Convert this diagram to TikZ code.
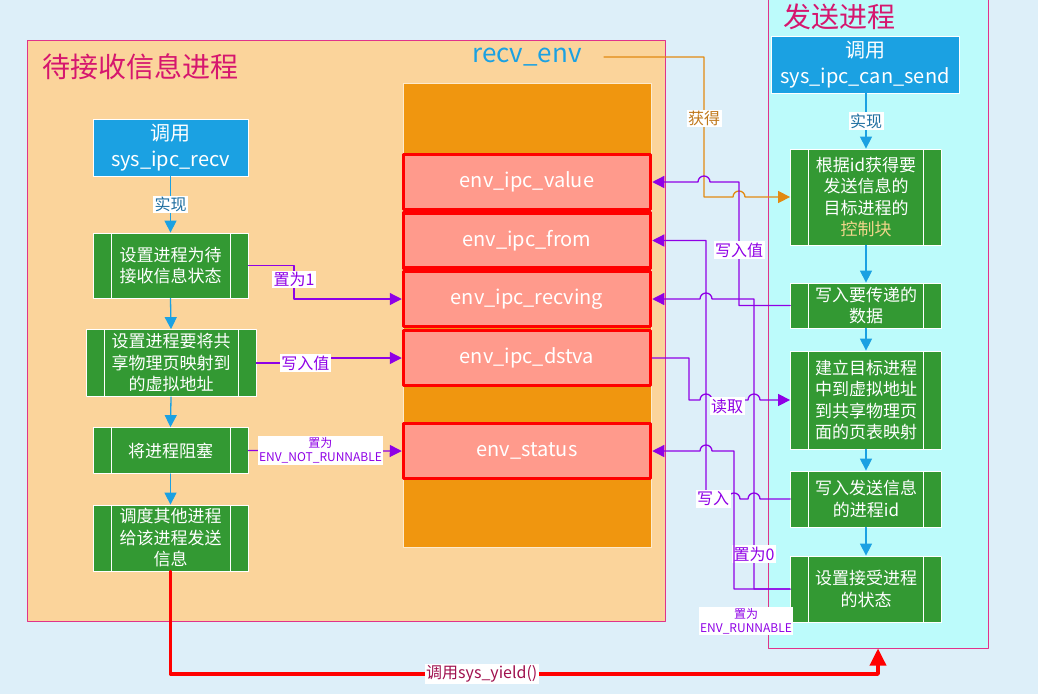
\documentclass[tikz,border=0pt]{standalone}
\usepackage{fontspec}
\setmainfont{Noto Sans CJK SC}
\usetikzlibrary{arrows.meta}
\usetikzlibrary{calc}

\definecolor{bgblue}{HTML}{DDEFF9}
\definecolor{recvfill}{HTML}{FBD49B}
\definecolor{sendfill}{HTML}{BCFBFB}
\definecolor{panelpink}{HTML}{E0338A}
\definecolor{titlepink}{HTML}{D6166E}
\definecolor{envorange}{HTML}{F0960F}
\definecolor{fieldsalmon}{HTML}{FF9A8C}
\definecolor{callblue}{HTML}{1BA1E2}
\definecolor{procgreen}{HTML}{339933}
\definecolor{ipcpurple}{HTML}{8F00E6}
\definecolor{getorange}{HTML}{E28A12}
\definecolor{gettext}{HTML}{C0781A}
\definecolor{impltext}{HTML}{1E6EA0}
\definecolor{yieldtext}{HTML}{A0104E}
\definecolor{ctrlyellow}{HTML}{F0D68A}

\begin{document}
\begin{tikzpicture}[x=1pt, y=-1pt, line cap=round, line join=round, >={Triangle[length=12pt,width=12pt]},
  callbox/.style={draw=white, line width=0.8pt, fill=callblue, text=white, align=center, minimum height=57pt, inner sep=0pt, font=\fontsize{20}{26}\selectfont},
  procbox/.style={draw=white, line width=0.8pt, fill=procgreen, text=white, align=center, inner sep=0pt, font=\fontsize{17}{21.5}\selectfont,
    path picture={\draw[white, line width=0.8pt] ([xshift=18pt]path picture bounding box.north west) -- ([xshift=18pt]path picture bounding box.south west)
      ([xshift=-18pt]path picture bounding box.north east) -- ([xshift=-18pt]path picture bounding box.south east);}},
  fieldbox/.style={draw=red, line width=3.5pt, fill=fieldsalmon, text=white, minimum width=247pt, minimum height=55pt, font=\fontsize{20}{24}\selectfont},
  lbl/.style={fill=white, inner sep=1.5pt, font=\fontsize{16}{18}\selectfont},
  plbl/.style={lbl, text=ipcpurple},
  smalllbl/.style={fill=white, inner sep=1.5pt, align=center, text=ipcpurple, font=\fontsize{12}{14}\selectfont},
  flow/.style={draw=callblue, line width=1.3pt, ->},
  pline/.style={draw=ipcpurple, line width=1.3pt},
  oline/.style={draw=getorange, line width=1.3pt},
  yline/.style={draw=red, line width=3.5pt, -{Triangle[length=17pt,width=16pt]}},
  ]

\useasboundingbox (0,0) rectangle (1038,694);
\fill[bgblue] (0,0) rectangle (1038,694);

% the two processes
\node[draw=panelpink, line width=1pt, fill=recvfill, minimum width=638pt, minimum height=581pt, inner sep=0pt] (recvp) at (346,330.5) {};
\node[draw=panelpink, line width=1pt, fill=sendfill, minimum width=220pt, minimum height=653pt, inner sep=0pt] (sendp) at (878,321.5) {};
\node[anchor=west, text=titlepink, font=\fontsize{28}{32}\selectfont, inner sep=0pt] (recvtitle) at (42,67) {待接收信息进程};
\node[anchor=west, text=titlepink, font=\fontsize{28}{32}\selectfont, inner sep=0pt] (sendtitle) at (783,17) {发送进程};

% recv_env
\node[text=callblue, font=\fontsize{26}{30}\selectfont, inner sep=1pt] (recvenv) at (527,57) {recv\_env};
\node[draw=recvfill!50!white, fill=envorange, minimum width=248pt, minimum height=464pt, inner sep=0pt] (envcol) at (527,315) {};
\node[fieldbox] (value) at (527,182) {env\_ipc\_value};
\node[fieldbox] (from) at (527,240.5) {env\_ipc\_from};
\node[fieldbox] (recving) at (527,299) {env\_ipc\_recving};
\node[fieldbox] (dstva) at (527,358) {env\_ipc\_dstva};
\node[fieldbox] (status) at (527,451) {env\_status};

% receiver
\node[callbox, minimum width=155pt] (callrecv) at (170.5,147.5) {调用\\sys\_ipc\_recv};
\node[procbox, minimum width=155pt, minimum height=65pt] (setwait) at (170.5,265.5) {设置进程为待\\接收信息状态};
\node[procbox, minimum width=170pt, minimum height=67pt] (setva) at (171,363) {设置进程要将共\\享物理页映射到\\的虚拟地址};
\node[procbox, minimum width=155pt, minimum height=46pt] (block) at (170.5,450.5) {将进程阻塞};
\node[procbox, minimum width=155pt, minimum height=66pt] (sched) at (170.5,538) {调度其他进程\\给该进程发送\\信息};

% sender
\node[callbox, minimum width=188pt] (callsend) at (865,64.5) {调用\\sys\_ipc\_can\_send};
\node[procbox, minimum width=151pt, minimum height=96pt] (getenv) at (866,197) {根据id获得要\\发送信息的\\目标进程的\\\textcolor{ctrlyellow}{控制块}};
\node[procbox, minimum width=151pt, minimum height=45pt] (putval) at (866,305.5) {写入要传递的\\数据};
\node[procbox, minimum width=151pt, minimum height=98pt] (mappage) at (866,400) {建立目标进程\\中到虚拟地址\\到共享物理页\\面的页表映射};
\node[procbox, minimum width=151pt, minimum height=56pt] (putid) at (866,499) {写入发送信息\\的进程id};
\node[procbox, minimum width=151pt, minimum height=66pt] (setrun) at (866,589) {设置接受进程\\的状态};

\draw[flow] (callrecv) -- node[lbl, text=impltext] {实现} (setwait);
\draw[flow] (setwait.south) -- (setva.north);
\draw[flow] (setva.south) -- (block.north);
\draw[flow] (block) -- (sched);

\draw[flow] (callsend.south -| getenv.north) -- node[lbl, text=impltext] {实现} (getenv.north);
\draw[flow] (getenv) -- (putval);
\draw[flow] (putval) -- (mappage);
\draw[flow] (mappage) -- (putid);
\draw[flow] (putid) -- (setrun);

% lanes between the columns
\coordinate (lnL) at (294,0);
\coordinate (lnA) at (689,0);
\coordinate (lnB) at (704,0);
\coordinate (lnC) at (706,0);
\coordinate (lnD) at (734,0);
\coordinate (lnE) at (739,0);
\coordinate (lnF) at (754,0);
\coordinate (ybot) at (0,674);

\draw[pline,->] (setwait.east) -- (lnL |- setwait.east) -- node[plbl, pos=0.42] {置为1} (lnL |- recving.west) -- (recving.west);
\draw[pline,->] (setva.east) -- ++(49,0) node[plbl] {写入值} |- (dstva.west);
\draw[pline,->] (block.east) -- node[smalllbl, pos=0.47] {置为\\ENV\_NOT\_RUNNABLE} (status.west);

\draw[oline,->] ([xshift=21pt]recvenv.east) -- (lnB |- recvenv.east) -- node[lbl, text=gettext, pos=0.44] {获得} (lnB |- getenv.west)
  -- ($(lnE |- getenv.west)+(-6,0)$) arc[start angle=180, end angle=0, radius=6pt] -- (getenv.west);

\draw[pline,->] (putval.west) -- (lnE |- putval.west) -- node[plbl, pos=0.45] {写入值} (lnE |- value.east)
  -- ($(lnB |- value.east)+(6,0)$) arc[start angle=0, end angle=180, radius=6pt] -- (value.east);

\draw[pline,->] (setrun.west) -- (lnF |- setrun.west) -- node[plbl, pos=0.12] {置为0} (lnF |- recving.east)
  -- ($(lnC |- recving.east)+(6,0)$) arc[start angle=0, end angle=180, radius=6pt] -- (recving.east);

\draw[pline,->] (setrun.west) -- (lnD |- setrun.west) -- (lnD |- status.east)
  -- ($(lnC |- status.east)+(6,0)$) arc[start angle=0, end angle=180, radius=6pt] -- (status.east);
\node[smalllbl] (runlbl) at (746,621) {置为\\ENV\_RUNNABLE};

\draw[pline,->] (dstva.east) -- (lnA |- dstva.east) -- (lnA |- mappage.west)
  -- ($(lnC |- mappage.west)+(-6,0)$) arc[start angle=180, end angle=0, radius=6pt]
  -- node[plbl, pos=0.42, yshift=-6pt] {读取} ($(lnF |- mappage.west)+(-6,0)$) arc[start angle=180, end angle=0, radius=6pt] -- (mappage.west);

\draw[pline,->] (putid.west) -- ($(lnF |- putid.west)+(6,0)$) arc[start angle=0, end angle=180, radius=6pt]
  -- ($(lnD |- putid.west)+(6,0)$) arc[start angle=0, end angle=180, radius=6pt]
  -- (lnC |- putid.west) node[plbl, xshift=7pt] {写入} -- (lnC |- from.east) -- (from.east);

\draw[yline] (sched.south) |- node[lbl, text=yieldtext, pos=0.72] {调用sys\_yield()} (sendp.south |- ybot) -- (sendp.south);

\end{tikzpicture}
\end{document}
